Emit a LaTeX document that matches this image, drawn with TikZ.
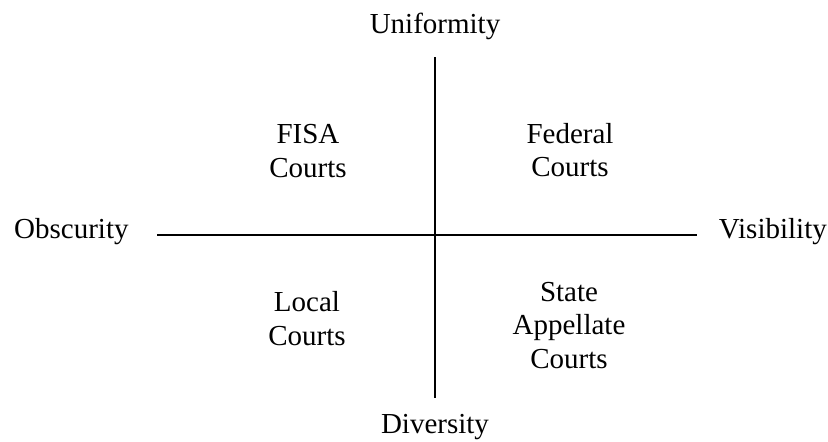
\documentclass[tikz,border=0pt]{standalone}
\usepackage{fontspec}
\setmainfont{Liberation Serif}
\begin{document}
\begin{tikzpicture}[x=1pt,y=-1pt,
  lbl/.style={font=\fontsize{29}{33.5}\selectfont, inner sep=0pt, align=center},
  axis/.style={line width=1.6pt}]
\useasboundingbox (0,0) rectangle (828,442);
\node[lbl, anchor=base] (u) at (435,33) {Uniformity};
\node[lbl, anchor=base] (d) at (435,433) {Diversity};
\node[lbl, anchor=base west] (o) at (14,238) {Obscurity};
\node[lbl, anchor=base east] (v) at (827,238) {Visibility};
\coordinate (top) at (435,57);
\coordinate (bot) at (435,398);
\coordinate (lft) at (157,235);
\coordinate (rgt) at (697,235);
\draw[axis] (top) -- (bot);
\draw[axis] (lft) -- (rgt);
\node[lbl] (fisa) at (308,151) {FISA\\Courts};
\node[lbl] (fed) at (570,150) {Federal\\Courts};
\node[lbl] (loc) at (307,318.5) {Local\\Courts};
\node[lbl] (st) at (569,325.5) {State\\Appellate\\Courts};
\end{tikzpicture}
\end{document}
